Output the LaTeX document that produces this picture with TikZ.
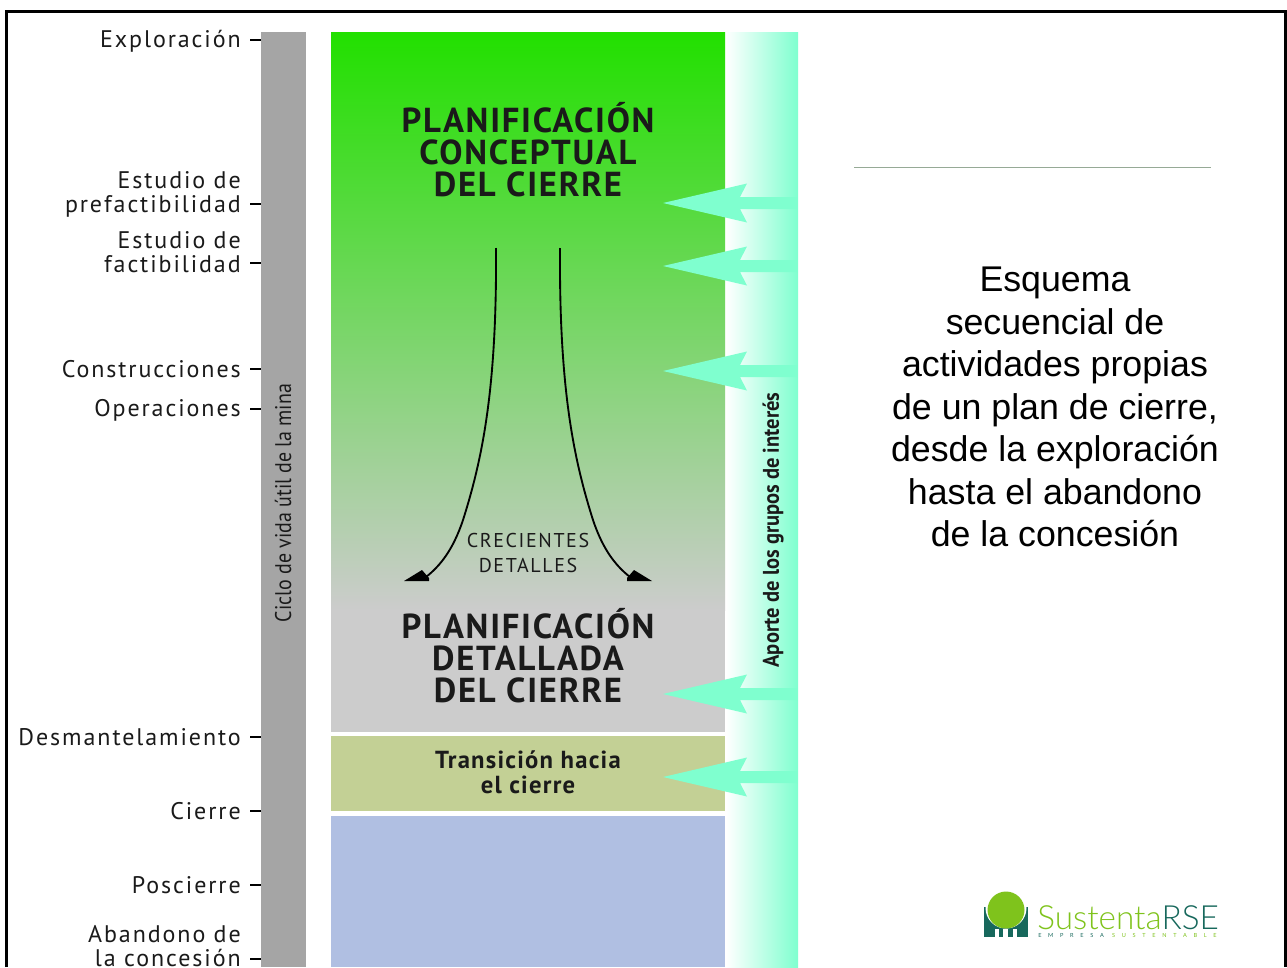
\documentclass[tikz,border=0pt]{standalone}
\usepackage{fontspec}
\usepackage{graphicx}
\setmainfont{Liberation Sans}
\newfontfamily\din[LetterSpace=8]{PT Sans}
\newfontfamily\dinb[LetterSpace=5]{PT Sans Bold}
\newfontfamily\dinn{PT Sans}
\newfontfamily\logof{Lato Light}
\newfontfamily\logos[LetterSpace=120]{Lato}
\definecolor{arrowc}{HTML}{7FFFCF}
\definecolor{topgreen}{HTML}{22E000}
\definecolor{midgray}{HTML}{CCCCCC}
\definecolor{olivec}{HTML}{C3D095}
\definecolor{bluec}{HTML}{B0BFE2}
\definecolor{barc}{HTML}{A5A5A5}
\definecolor{inkc}{HTML}{1A1A1A}
\definecolor{logog}{HTML}{7FC31C}
\definecolor{logod}{HTML}{17685C}
\tikzset{
  lab/.style={anchor=east,inner sep=0pt,font=\din\fontsize{18}{18}\selectfont,text=inkc,align=right},
  head/.style={inner sep=0pt,font=\dinb\fontsize{26}{24}\selectfont,text=inkc,align=center},
  tickm/.style={draw=black,line width=1pt},
  curv/.style={draw=black,line width=1.4pt},
  flow/.style={fill=arrowc,draw=none},
}
\newcommand{\bigarrow}[1]{%
  \fill[flow] (663,#1) -- (747,#1-19.5) -- (740,#1-6) -- (797,#1-6) -- (797,#1+6) -- (740,#1+6) -- (747,#1+19.5) -- cycle;}
\begin{document}
\begin{tikzpicture}[x=0.75pt,y=-0.75pt]
\useasboundingbox (0,0) rectangle (1287,967);
\fill[white] (0,0) rectangle (1287,967);
% frame
\draw[black,line width=2.4pt] (6.5,967) -- (6.5,11.5) -- (1285.5,11.5) -- (1285.5,967);
% bars
\fill[barc] (261,32) rectangle (306,967);
\shade[left color=white,right color=arrowc] (726,32) rectangle (798,967);
\shade[top color=topgreen,bottom color=midgray] (331,32) rectangle (725,610);
\fill[midgray] (331,609.5) rectangle (725,732);
\fill[olivec] (331,736) rectangle (725,811);
\fill[bluec] (331,816) rectangle (725,967);
% big arrows
\bigarrow{203}\bigarrow{266}\bigarrow{371}\bigarrow{694}\bigarrow{777}
% left labels
\node[lab] (l1) at (241,41) {Exploración};
\node[lab,anchor=south east] (l2) at (241,217.5) {Estudio de\\prefactibilidad};
\node[lab,anchor=south east] (l3) at (241,273) {Estudio de\\factibilidad};
\node[lab] (l4) at (241,369) {Construcciones};
\node[lab] (l5) at (241,410) {Operaciones};
\node[lab] (l6) at (241,737) {Desmantelamiento};
\node[lab] (l7) at (241,811) {Cierre};
\node[lab] (l8) at (241,885) {Poscierre};
\node[lab,anchor=south east] (l9) at (241,967) {Abandono de\\la concesión};
\foreach \yy in {40,204,263,369,409,737,811,885,959}
  \draw[tickm] (250,\yy) -- (261,\yy);
% vertical labels
\node[inner sep=0pt,text=inkc] (v1) at (283,503) {\rotatebox{90}{\scalebox{0.88}[1]{\dinn\fontsize{17}{18}\selectfont Ciclo de vida útil de la mina}}};
\node[inner sep=0pt,text=inkc] (v2) at (773,530) {\rotatebox{90}{\scalebox{0.905}[1]{\dinn\bfseries\fontsize{17}{18}\selectfont Aporte de los grupos de interés}}};
% headings
\node[head] (h1) at (528,150) {PLANIFICACIÓN\\CONCEPTUAL\\DEL CIERRE};
\node[head] (h2) at (528,656) {PLANIFICACIÓN\\DETALLADA\\DEL CIERRE};
\node[inner sep=0pt,align=center,text=inkc,font=\din\fontsize{15}{18.8}\selectfont] (h3) at (528,553) {CRECIENTES\\DETALLES};
\node[inner sep=0pt,align=center,text=inkc,font=\dinb\fontsize{18.5}{19}\selectfont] (h4) at (528,772.5) {Transición hacia\\el cierre};
% curves
\coordinate (c1s) at (496,248);
\coordinate (c1e) at (426,577);
\coordinate (c2s) at (560,248);
\coordinate (c2e) at (630,577);
\draw[curv] (c1s) .. controls (497,390) and (482,460) .. (463,520) .. controls (453,550) and (440,566) .. (c1e);
\draw[curv] (c2s) .. controls (559,390) and (574,460) .. (593,520) .. controls (603,550) and (616,566) .. (c2e);
\fill[black] (404,581) -- (422,570) -- (429,578) -- (429,581) -- cycle;
\fill[black] (652,581) -- (634,570) -- (627,578) -- (627,581) -- cycle;
% right side
\draw[draw={rgb,255:red,150;green,170;blue,150},line width=0.5pt] (854,167) -- (1211,167);
\node[inner sep=0pt,align=center,text=black,font=\fontsize{26.8}{31.9}\selectfont] (t) at (1055,407) {Esquema\\secuencial de\\actividades propias\\de un plan de cierre,\\desde la exploración\\hasta el abandono\\de la concesión};
% logo
\fill[logod] (984,907) rectangle (1028,937);
\fill[white] (1006,908) circle[radius=20.5];
\fill[white] (983,900) rectangle (1029,907);
\fill[logog] (1006,910) circle[radius=18.5];
\fill[white] (995,929) rectangle (999,938);
\fill[white] (1003,929) rectangle (1008,938);
\fill[white] (1013,929) rectangle (1017,938);
\node[anchor=base west,inner sep=0pt,font=\logof\fontsize{25}{26}\selectfont] (lg) at (1037,929) {\textcolor{logog}{Sustenta}\textcolor{logod}{RSE}};
\node[anchor=base west,inner sep=0pt,font=\logos\fontsize{4.2}{5}\selectfont] (ls) at (1038,937) {\textcolor{logod}{EMPRESA} \textcolor{logog}{SUSTENTABLE}};
\end{tikzpicture}
\end{document}
